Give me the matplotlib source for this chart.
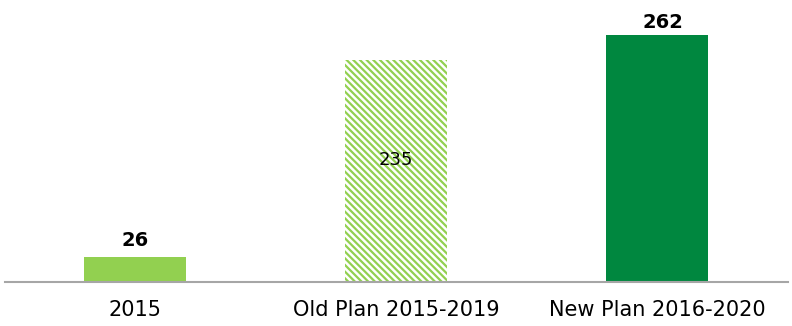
import matplotlib.pyplot as plt

categories = ["2015", "Old Plan 2015-2019", "New Plan 2016-2020"]
values = [26, 235, 262]

light_green = "#92D050"
dark_green = "#00873F"

plt.rcParams["hatch.linewidth"] = 1.6

fig = plt.figure(figsize=(7.92, 3.26), dpi=100)
ax = fig.add_axes([4.5 / 792, 44 / 326, 783 / 792, 282 / 326])

x = range(len(categories))
ax.bar(0, values[0], width=0.39, color=light_green, linewidth=0)
ax.bar(1, values[1], width=0.39, facecolor="white", edgecolor=light_green,
       hatch="\\\\\\\\\\", linewidth=0)
ax.bar(2, values[2], width=0.39, color=dark_green, linewidth=0)

# value labels: bold above the solid bars, plain inside the hatched one
ax.annotate(str(values[0]), (0, values[0]), xytext=(0, 11),
            textcoords="offset pixels", ha="center", va="baseline",
            fontsize=14, fontweight="bold")
ax.text(1, values[1] * 0.55, str(values[1]), ha="center", va="center",
        fontsize=13)
ax.annotate(str(values[2]), (2, values[2]), xytext=(6, 7),
            textcoords="offset pixels", ha="center", va="baseline",
            fontsize=14, fontweight="bold")

ax.set_xlim(-0.5, 2.5)
ax.set_ylim(0, 299)
ax.set_xticks(list(x))
ax.set_xticklabels(categories, fontsize=15)
ax.tick_params(axis="x", length=0, pad=13)
ax.set_yticks([])
for side in ["top", "right", "left"]:
    ax.spines[side].set_visible(False)
ax.spines["bottom"].set_color("#A6A6A6")
ax.spines["bottom"].set_linewidth(1.5)

fig.savefig("out.png", dpi=100)
